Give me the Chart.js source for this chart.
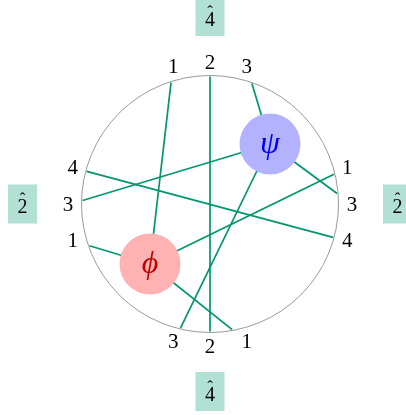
<!DOCTYPE html>
<html><head><meta charset="utf-8">
<script src="https://cdn.jsdelivr.net/npm/chart.js@4"></script>
<style>html,body{margin:0;padding:0;background:#fff}#wrap{width:406px;height:415px}</style>
</head><body><div id="wrap"><canvas id="c"></canvas></div>
<script>
// Boundary slots: label, angle of the label, angle where the chord meets the circle
const slotLabels  = ['1','2','3', '1','3','4', '1','2','3', '1','3','4'];
const labelAngles = [105,90,75, 15,0,-15, 285,270,255, 195,180,165];
const endAngles   = [107.8,90,70.8, 13.5,4.7,-15.2, 280,270,256.6, 199.1,178.4,165.2];
// Vertices (blobs)
const blobNames   = ['phi','psi'];
const blobSymbols = ['\u03D5','\u03C8'];
const blobX       = [-60, 60];
const blobY       = [-60, 60];
// Chords: slot index -> slot index or blob name
const chords = [[0,'phi'],[1,7],[2,'psi'],[3,'phi'],[4,'psi'],[5,11],[6,'phi'],[8,'psi'],[9,'phi'],[10,'psi']];
// External hatted labels
const hatLabels = ['4','2','4','2'];
const hatAngles = [90,0,270,180];

const R = 128.5, R_END = 127.5, R_LABEL = 142, R_HAT = 187.5;
const LINE = '#00966E', BOX = '#B3E0D4';
const blobFill = ['#FFB2B2','#B2B2FF'];
const blobText = ['#C00000','#0000F0'];
const rad = a => a*Math.PI/180;
function slotPt(i){ return {x: R_END*Math.cos(rad(endAngles[i])), y: R_END*Math.sin(rad(endAngles[i]))}; }
function endPt(e){ if (typeof e === 'number') return slotPt(e); const k = blobNames.indexOf(e); return {x: blobX[k], y: blobY[k]}; }

const datasets = [];
chords.forEach(([a,b]) => {
  datasets.push({type:'scatter', data:[endPt(a), endPt(b)], showLine:true, borderColor:LINE, borderWidth:1.7,
    pointRadius:0, pointHoverRadius:0, order:2, clip:false});
});
blobNames.forEach((n,k) => {
  datasets.push({type:'scatter', data:[{x:blobX[k], y:blobY[k]}], pointRadius:30.5, pointHoverRadius:30.5,
    pointBackgroundColor:blobFill[k], pointBorderWidth:0, borderWidth:0, order:1, clip:false});
});

const deco = {
  id:'deco',
  beforeDatasetsDraw(chart){
    const {ctx, scales:{x, y}} = chart;
    const cx = x.getPixelForValue(0), cy = y.getPixelForValue(0);
    const r = x.getPixelForValue(R) - cx;
    ctx.save(); ctx.beginPath(); ctx.arc(cx, cy, r, 0, Math.PI*2);
    ctx.strokeStyle = '#808080'; ctx.lineWidth = 0.8; ctx.stroke(); ctx.restore();
  },
  afterDatasetsDraw(chart){
    const {ctx, scales:{x, y}} = chart;
    ctx.save();
    ctx.textAlign = 'center'; ctx.textBaseline = 'middle';
    // boundary labels
    ctx.fillStyle = '#000'; ctx.font = '21px "Liberation Serif"';
    slotLabels.forEach((t,i) => {
      const px = x.getPixelForValue(R_LABEL*Math.cos(rad(labelAngles[i])));
      const py = y.getPixelForValue(R_LABEL*Math.sin(rad(labelAngles[i])));
      ctx.fillText(t, px, py+1);
    });
    // blob symbols
    blobNames.forEach((n,k) => {
      ctx.fillStyle = blobText[k]; ctx.font = 'italic 32px "Liberation Serif"';
      ctx.fillText(blobSymbols[k], x.getPixelForValue(blobX[k]), y.getPixelForValue(blobY[k])+1);
    });
    // hatted labels in boxes
    hatLabels.forEach((t,i) => {
      const px = x.getPixelForValue(R_HAT*Math.cos(rad(hatAngles[i])));
      const py = y.getPixelForValue(R_HAT*Math.sin(rad(hatAngles[i])));
      ctx.fillStyle = BOX; ctx.fillRect(px-14.5, py-19.5, 29, 39);
      ctx.fillStyle = '#000'; ctx.font = '20px "Liberation Serif"';
      ctx.fillText(t, px, py+4);
      ctx.font = '17px "Liberation Serif"';
      ctx.fillText('\u02C6', px, py-4);
    });
    ctx.restore();
  }
};

new Chart(document.getElementById('c'), {
  type:'scatter',
  data:{datasets},
  options:{
    responsive:true, maintainAspectRatio:false, animation:false, events:[],
    layout:{padding:0, autoPadding:false},
    plugins:{legend:{display:false}, tooltip:{enabled:false}},
    scales:{
      x:{type:'linear', min:-210, max:196, display:false},
      y:{type:'linear', min:-211, max:204, display:false}
    }
  },
  plugins:[deco]
});
</script></body></html>
